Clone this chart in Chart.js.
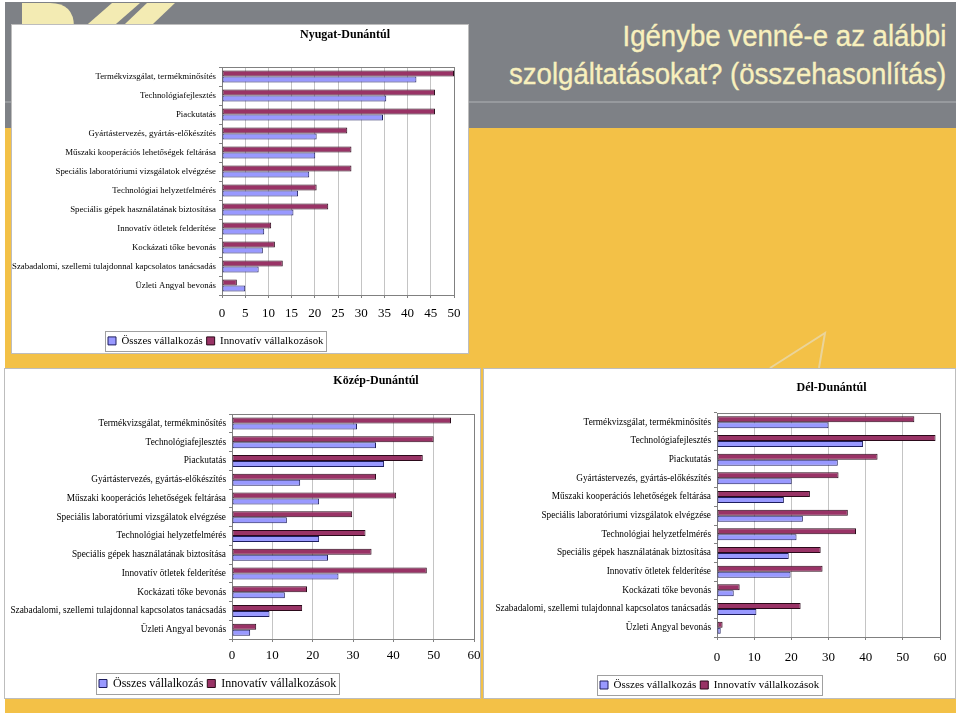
<!DOCTYPE html>
<html lang="hu">
<head>
<meta charset="utf-8">
<title>Igénybe venné-e az alábbi szolgáltatásokat?</title>
<script src="https://cdn.jsdelivr.net/npm/chart.js@4.4.1/dist/chart.umd.min.js"></script>
<style>
  body { margin: 0; width: 960px; height: 716px; background: #fff; position: relative; overflow: hidden; }
  #slide { position: absolute; left: 5px; top: 2px; width: 951px; height: 711px; background: #f3c147; }
  #band { position: absolute; left: 5px; top: 2px; width: 951px; height: 126px; background: #7e8186; }
  #bandLine { position: absolute; left: 5px; top: 101px; width: 951px; height: 2px; background: #979a9e; }
  #deco { position: absolute; left: 0; top: 0; }
  #heading {
    position: absolute; right: 14px; top: 17px; text-align: right;
    color: #f8f0bd; font-family: "Liberation Sans", Arial, sans-serif;
    font-size: 30px; line-height: 38px; white-space: nowrap;
    transform: scaleX(0.92); transform-origin: right top;
    -webkit-text-stroke: 0.35px #f8f0bd;
  }
  .panel { position: absolute; background: #fff; outline: 1px solid #bdbdbd; }
  .panel canvas { position: absolute; left: 0; top: 0; }
</style>
</head>
<body>
<div id="slide"></div>
<div id="band"></div>
<div id="bandLine"></div>
<svg id="deco" width="960" height="400">
  <path d="M22 3 L50 3 Q74 3 74 27 L74 40 L22 40 Z" fill="#f3ebb3"/>
  <polygon points="112,3 140,3 93,44 65,44" fill="#f3ebb3"/>
  <polygon points="147,3 175,3 132,44 104,44" fill="#f3ebb3"/>
  <polyline points="770,368 825,333 819,368" fill="none" stroke="#ead49a" stroke-width="2"/>
</svg>
<div id="heading">Igénybe venné-e az alábbi<br>szolgáltatásokat? (összehasonlítás)</div>

<div class="panel" style="left:12px; top:25px; width:456px; height:328px;">
  <canvas id="nyugat" width="456" height="328"></canvas>
</div>
<div class="panel" style="left:5px; top:369px; width:475px; height:329px;">
  <canvas id="kozep" width="475" height="329"></canvas>
</div>
<div class="panel" style="left:484px; top:369px; width:471px; height:329px;">
  <canvas id="del" width="471" height="329"></canvas>
</div>

<script>
const categories = [
  "Termékvizsgálat, termékminősítés",
  "Technológiafejlesztés",
  "Piackutatás",
  "Gyártástervezés, gyártás-előkészítés",
  "Műszaki kooperációs lehetőségek feltárása",
  "Speciális laboratóriumi vizsgálatok elvégzése",
  "Technológiai helyzetfelmérés",
  "Speciális gépek használatának biztosítása",
  "Innovatív ötletek felderítése",
  "Kockázati tőke bevonás",
  "Szabadalomi, szellemi tulajdonnal kapcsolatos tanácsadás",
  "Üzleti Angyal bevonás"
];
const seriesNames = ["Összes vállalkozás", "Innovatív vállalkozások"];
const regionNames = ["Nyugat-Dunántúl", "Közép-Dunántúl", "Dél-Dunántúl"];

// values (%)
const nyugatOsszes = [41.9, 35.4, 34.7, 20.4, 20.1, 18.8, 16.4, 15.4, 9.1, 8.8, 7.9, 5.0];
const nyugatInnov  = [50.0, 45.9, 45.9, 27.0, 27.9, 27.9, 20.4, 22.9, 10.6, 11.4, 13.1, 3.2];
const kozepOsszes  = [31.0, 35.7, 37.7, 16.9, 21.6, 13.6, 21.6, 23.8, 26.4, 13.1, 9.3, 4.5];
const kozepInnov   = [54.3, 50.0, 47.3, 35.7, 40.7, 29.8, 33.1, 34.6, 48.3, 18.6, 17.4, 6.0];
const delOsszes    = [30.0, 39.3, 32.5, 20.1, 18.0, 23.1, 21.4, 19.3, 19.8, 4.5, 10.6, 1.0];
const delInnov     = [53.1, 58.8, 43.2, 32.7, 25.0, 35.2, 37.4, 27.9, 28.4, 6.1, 22.5, 1.5];

const nyugatTicks = [0, 5, 10, 15, 20, 25, 30, 35, 40, 45, 50];
const kozepTicks  = [0, 10, 20, 30, 40, 50, 60];
const delTicks    = [0, 10, 20, 30, 40, 50, 60];

const serif = '"Liberation Serif", "Times New Roman", serif';

// moves legend / title where the slide has them, draws plot frame and legend box
const panelTweaks = {
  id: "panelTweaks",
  afterUpdate(chart, args, opts) {
    const legend = chart.legend;
    const pad = legend.options.labels.padding;
    const dx = opts.legendX + 3 - pad - legend.left;
    legend.left += dx;
    legend.right += dx;
    legend.top = opts.legendY + opts.legendPadY - pad;
    legend.bottom = legend.top + legend.height;
    const title = chart.titleBlock;
    title.left += opts.titleShift;
    title.right += opts.titleShift;
  },
  beforeDatasetsDraw(chart) {
    const a = chart.chartArea;
    const ctx = chart.ctx;
    ctx.save();
    ctx.strokeStyle = "#808080";
    ctx.lineWidth = 1;
    ctx.strokeRect(Math.round(a.left) + 0.5, Math.round(a.top) + 0.5,
      Math.round(a.right - a.left), Math.round(a.bottom - a.top));
    ctx.restore();
  },
  afterDraw(chart, args, opts) {
    const legend = chart.legend;
    const pad = legend.options.labels.padding;
    const size = legend.options.labels.font.size;
    const x0 = Math.round(legend.left + pad - 3) + 0.5;
    const x1 = Math.round(legend.left + legend.lineWidths[0] + 3) + 0.5;
    const y0 = Math.round(legend.top + pad - opts.legendPadY) + 0.5;
    const y1 = Math.round(legend.top + pad + size + opts.legendPadY) + 0.5;
    const ctx = chart.ctx;
    ctx.save();
    ctx.strokeStyle = "#a0a0a0";
    ctx.lineWidth = 1;
    ctx.strokeRect(x0, y0, x1 - x0, y1 - y0);
    ctx.restore();
  }
};

function drawRegion(canvasId, title, osszes, innov, ticks, look) {
  return new Chart(document.getElementById(canvasId), {
    type: "bar",
    data: {
      labels: categories,
      datasets: [
        { label: seriesNames[1], data: innov, backgroundColor: "#993366",
          borderColor: "#2b0a1a", borderWidth: 1, borderSkipped: false },
        { label: seriesNames[0], data: osszes, backgroundColor: "#9999ff",
          borderColor: "#1e1e5e", borderWidth: 1, borderSkipped: false }
      ]
    },
    options: {
      indexAxis: "y",
      responsive: false,
      animation: false,
      events: [],
      layout: { padding: { left: 0, right: look.padRight, top: 0, bottom: 0 } },
      datasets: { bar: { categoryPercentage: 0.64, barPercentage: 1 } },
      scales: {
        x: {
          min: ticks[0],
          max: ticks[ticks.length - 1],
          ticks: { stepSize: ticks[1] - ticks[0], color: "#000",
            font: { family: serif, size: 13 }, padding: look.tickPad - 3 },
          grid: { color: "#c4c4c4", tickColor: "#808080", tickLength: 3 },
          border: { color: "#808080" },
          afterFit(scale) {
            scale.height = scale.chart.height - look.plotBottom - scale.chart.legend.height;
            scale.paddingLeft = 0;
            scale.paddingRight = 0;
          }
        },
        y: {
          ticks: { color: "#000", font: { family: serif, size: look.labelSize },
            padding: 3, autoSkip: false },
          grid: { drawOnChartArea: false, tickColor: "#808080", tickLength: 3 },
          border: { color: "#808080" },
          afterFit(scale) { scale.width = look.plotLeft; }
        }
      },
      plugins: {
        title: {
          display: true, text: title, fullSize: false, color: "#000",
          font: { family: serif, size: 12, weight: "bold" },
          padding: { top: look.titleY - 7.2, bottom: look.plotTop - look.titleY - 7.2 }
        },
        legend: {
          position: "bottom",
          align: "start",
          labels: {
            boxWidth: 8, boxHeight: 8, padding: 4, color: "#000",
            font: { family: serif, size: look.legendSize },
            sort: (a, b) => b.datasetIndex - a.datasetIndex
          }
        },
        tooltip: { enabled: false },
        panelTweaks: {
          legendX: look.legendX, legendY: look.legendY, legendPadY: 4.5,
          titleShift: look.titleShift
        }
      }
    },
    plugins: [panelTweaks]
  });
}

drawRegion("nyugat", regionNames[0], nyugatOsszes, nyugatInnov, nyugatTicks, {
  plotLeft: 210, padRight: 14, plotTop: 42, plotBottom: 270, titleY: 10, titleShift: 7,
  labelSize: 8.8, legendSize: 10.8, legendX: 93, legendY: 306, tickPad: 11
});
drawRegion("kozep", regionNames[1], kozepOsszes, kozepInnov, kozepTicks, {
  plotLeft: 227, padRight: 6, plotTop: 45, plotBottom: 270, titleY: 12, titleShift: 23,
  labelSize: 9.3, legendSize: 12, legendX: 91, legendY: 304, tickPad: 9
});
drawRegion("del", regionNames[2], delOsszes, delInnov, delTicks, {
  plotLeft: 233, padRight: 15, plotTop: 44, plotBottom: 268, titleY: 19, titleShift: 3,
  labelSize: 9.3, legendSize: 11, legendX: 113, legendY: 306, tickPad: 13
});
</script>
</body>
</html>
